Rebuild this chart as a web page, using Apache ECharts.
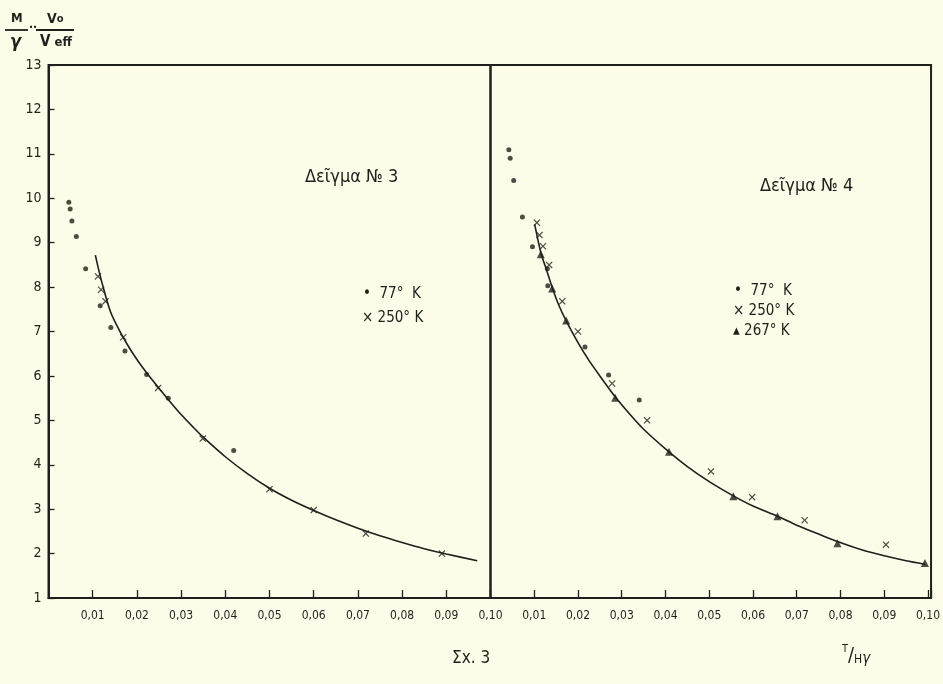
<!DOCTYPE html>
<html>
<head>
<meta charset="utf-8">
<script src="https://cdn.jsdelivr.net/npm/echarts@6/dist/echarts.min.js"></script>
<style>
html,body{margin:0;padding:0;background:#fdfce8;}
#c{width:943px;height:684px;}
</style>
</head>
<body>
<div id="c"></div>
<script>
// ---- Sample No 3 (left panel) ----
const s3_77_x  = [0.0046,0.0049,0.0053,0.0063,0.0084,0.0117,0.0141,0.0173,0.0222,0.0271,0.0419];
const s3_77_y  = [9.91,9.76,9.49,9.14,8.41,7.58,7.09,6.56,6.03,5.50,4.32];
const s3_250_x = [0.0112,0.0119,0.0129,0.0169,0.0248,0.0349,0.0500,0.0600,0.0718,0.0890];
const s3_250_y = [8.24,7.94,7.68,6.87,5.73,4.59,3.45,2.98,2.45,2.00];
const s3_curve_x = [0.0106,0.0115,0.0125,0.014,0.016,0.018,0.020,0.0225,0.025,0.0275,0.030,0.0325,0.035,0.040,0.045,0.050,0.055,0.060,0.065,0.070,0.075,0.080,0.085,0.090,0.097];
const s3_curve_y = [8.72,8.33,7.95,7.45,7.03,6.68,6.37,6.03,5.72,5.42,5.13,4.87,4.62,4.18,3.80,3.47,3.20,2.97,2.76,2.57,2.40,2.25,2.11,1.99,1.84];

// ---- Sample No 4 (right panel) ----
const s4_77_x  = [0.0042,0.0045,0.0053,0.0073,0.0096,0.0130,0.0131,0.0216,0.0270,0.0340];
const s4_77_y  = [11.09,10.90,10.40,9.58,8.91,8.41,8.03,6.65,6.02,5.46];
const s4_250_x = [0.0106,0.0112,0.0120,0.0134,0.0164,0.0200,0.0278,0.0358,0.0504,0.0598,0.0718,0.0904];
const s4_250_y = [9.45,9.17,8.92,8.50,7.68,7.00,5.83,5.00,3.85,3.27,2.75,2.20];
const s4_267_x = [0.0115,0.0141,0.0173,0.0285,0.0408,0.0555,0.0656,0.0793,0.0993];
const s4_267_y = [8.74,7.97,7.25,5.51,4.29,3.29,2.84,2.23,1.79];
const s4_curve_x = [0.0101,0.0115,0.013,0.0141,0.0155,0.0173,0.020,0.0225,0.025,0.0285,0.032,0.035,0.0408,0.045,0.050,0.0555,0.060,0.0656,0.070,0.075,0.0793,0.085,0.090,0.095,0.0993];
const s4_curve_y = [9.41,8.78,8.33,7.99,7.62,7.24,6.75,6.35,6.00,5.53,5.12,4.80,4.29,3.96,3.62,3.30,3.07,2.84,2.64,2.44,2.27,2.08,1.95,1.84,1.76];

// ---- axis ticks ----
const yMin = 1, yMax = 13, yStep = 1;
const xMin = 0, xMaxL = 0.10, xMaxR = 0.1007, xStep = 0.01;

const pairs = (xs, ys) => xs.map((x, i) => [x, ys[i]]);
const INK = '#1f1f1c';
const FONT = "'DejaVu Sans Condensed','DejaVu Sans',sans-serif";
const XMARK = 'path://M0,1.2 L1.2,0 L5,3.8 L8.8,0 L10,1.2 L6.2,5 L10,8.8 L8.8,10 L5,6.2 L1.2,10 L0,8.8 L3.8,5 Z';

function xFmt(v) {
  const k = Math.round(v / xStep);
  if (k === 0 || Math.abs(v - k * xStep) > 1e-6) return '';
  return (k * xStep).toFixed(2).replace('.', ',');
}

const chart = echarts.init(document.getElementById('c'), null, {renderer: 'canvas'});
const gridCommon = {top: 65, height: 533, show: true, borderColor: INK, borderWidth: 2, backgroundColor: 'transparent'};
const xCommon = {
  type: 'value', min: xMin, interval: xStep,
  axisLine: {show: true, lineStyle: {color: INK, width: 2}},
  axisTick: {show: true, inside: true, length: 8, lineStyle: {color: INK, width: 1.3}},
  axisLabel: {formatter: xFmt, color: INK, fontSize: 12, fontFamily: FONT, margin: 12, showMinLabel: false},
  splitLine: {show: false}
};

chart.setOption({
  backgroundColor: '#fdfce8',
  animation: false,
  grid: [
    Object.assign({left: 48.5, width: 442}, gridCommon),
    Object.assign({left: 490.5, width: 443}, gridCommon)
  ],
  xAxis: [
    Object.assign({gridIndex: 0, max: xMaxL}, xCommon),
    Object.assign({gridIndex: 1, max: xMaxR}, xCommon)
  ],
  yAxis: [
    {gridIndex: 0, type: 'value', min: yMin, max: yMax, interval: yStep,
     axisLine: {show: true, lineStyle: {color: INK, width: 2}},
     axisTick: {show: true, inside: true, length: 6, lineStyle: {color: INK, width: 1.3}},
     axisLabel: {color: INK, fontSize: 14, fontFamily: FONT, margin: 7},
     splitLine: {show: false}},
    {gridIndex: 1, type: 'value', min: yMin, max: yMax, interval: yStep,
     axisLine: {show: false}, axisTick: {show: false}, axisLabel: {show: false},
     splitLine: {show: false}}
  ],
  series: [
    {type: 'line', xAxisIndex: 0, yAxisIndex: 0, data: pairs(s3_curve_x, s3_curve_y),
     smooth: 0.25, symbol: 'none', lineStyle: {color: INK, width: 1.6}},
    {type: 'scatter', xAxisIndex: 0, yAxisIndex: 0, data: pairs(s3_77_x, s3_77_y),
     symbol: 'circle', symbolSize: 5, itemStyle: {color: INK}},
    {type: 'scatter', xAxisIndex: 0, yAxisIndex: 0, data: pairs(s3_250_x, s3_250_y),
     symbol: XMARK, symbolSize: 7, itemStyle: {color: INK}},
    {type: 'line', xAxisIndex: 1, yAxisIndex: 1, data: pairs(s4_curve_x, s4_curve_y),
     smooth: 0.25, symbol: 'none', lineStyle: {color: INK, width: 1.6}},
    {type: 'scatter', xAxisIndex: 1, yAxisIndex: 1, data: pairs(s4_77_x, s4_77_y),
     symbol: 'circle', symbolSize: 5, itemStyle: {color: INK}},
    {type: 'scatter', xAxisIndex: 1, yAxisIndex: 1, data: pairs(s4_250_x, s4_250_y),
     symbol: XMARK, symbolSize: 7, itemStyle: {color: INK}},
    {type: 'scatter', xAxisIndex: 1, yAxisIndex: 1, data: pairs(s4_267_x, s4_267_y),
     symbol: 'triangle', symbolSize: 8, itemStyle: {color: INK}}
  ],
  graphic: [
    // y-axis title:  M/γ · V0/Veff
    {type: 'text', left: 11, top: 12, style: {text: 'M', font: 'bold 13px ' + FONT, fill: INK}},
    {type: 'line', shape: {x1: 5, y1: 30, x2: 28, y2: 30}, style: {stroke: INK, lineWidth: 1.8}},
    {type: 'text', left: 10, top: 33, style: {text: 'γ', font: 'bold italic 18px ' + FONT, fill: INK}},
    {type: 'text', left: 29, top: 22, style: {text: '··', font: 'bold 12px ' + FONT, fill: INK}},
    {type: 'text', left: 47, top: 12, style: {text: '{a|V}{b|o}', font: 'bold 13px ' + FONT, fill: INK,
      rich: {a: {font: 'bold 14px ' + FONT, fill: INK}, b: {font: 'bold 11px ' + FONT, fill: INK}}}},
    {type: 'line', shape: {x1: 36, y1: 30, x2: 74, y2: 30}, style: {stroke: INK, lineWidth: 1.8}},
    {type: 'text', left: 40, top: 35, style: {text: '{a|V}{b| eff}', font: 'bold 14px ' + FONT, fill: INK,
      rich: {a: {font: 'bold 15px ' + FONT, fill: INK}, b: {font: 'bold 13px ' + FONT, fill: INK}}}},
    // panel titles
    {type: 'text', left: 305, top: 168, style: {text: 'Δεῖγμα № 3', font: '18px ' + FONT, fill: INK}},
    {type: 'text', left: 760, top: 177, style: {text: 'Δεῖγμα № 4', font: '18px ' + FONT, fill: INK}},
    // legends (left)
    {type: 'text', left: 363, top: 287, style: {text: '•  77°  K', font: '15px ' + FONT, fill: INK}},
    {type: 'text', left: 362, top: 311, style: {text: '× 250° K', font: '15px ' + FONT, fill: INK}},
    // legends (right)
    {type: 'text', left: 734, top: 284, style: {text: '•  77°  K', font: '15px ' + FONT, fill: INK}},
    {type: 'text', left: 733, top: 304, style: {text: '× 250° K', font: '15px ' + FONT, fill: INK}},
    {type: 'text', left: 733, top: 324, style: {text: '▴ 267° K', font: '15px ' + FONT, fill: INK}},
    // bottom captions
    {type: 'text', left: 452, top: 650, style: {text: 'Σx. 3', font: '17px ' + FONT, fill: INK}},
    {type: 'text', left: 842, top: 644, style: {text: '{t|T}{s|/}{h|H}{g|γ}', font: '15px ' + FONT, fill: INK,
      rich: {t: {font: '11px ' + FONT, fill: INK, verticalAlign: 'top', padding: [0,0,8,0]},
             s: {font: '20px ' + FONT, fill: INK},
             h: {font: '12px ' + FONT, fill: INK, padding: [8,0,0,0]},
             g: {font: 'italic 15px ' + FONT, fill: INK, padding: [8,0,0,0]}}}}
  ]
});
</script>
</body>
</html>
